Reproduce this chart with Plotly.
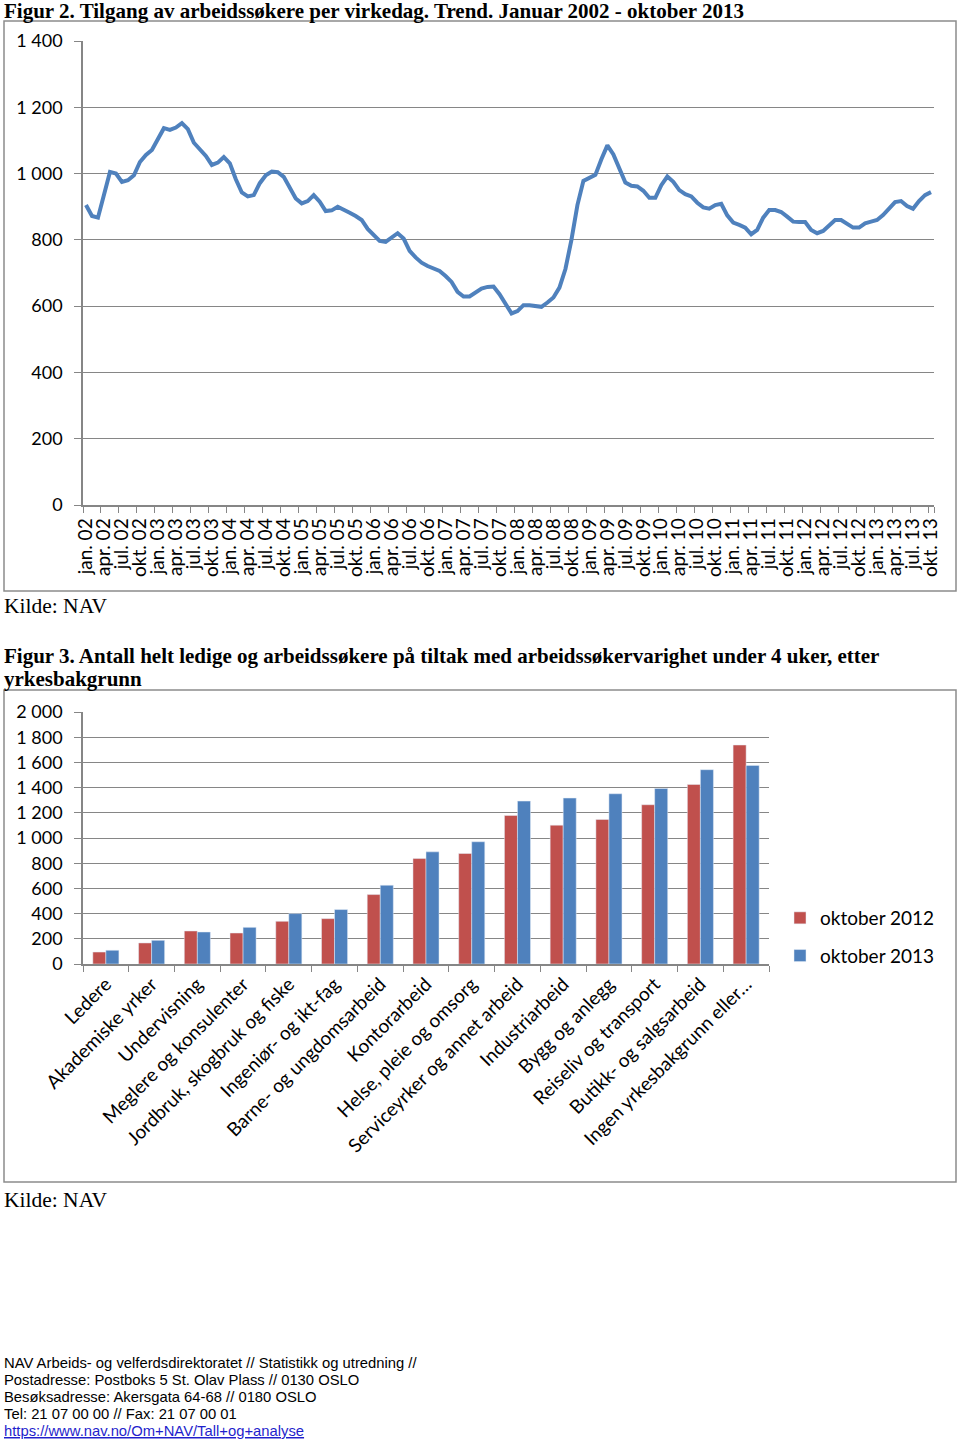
import plotly.graph_objects as go

# ---------------- Data: Figur 2 ----------------
month_abbr = ["jan.", "feb.", "mar.", "apr.", "mai", "jun.", "jul.", "aug.", "sep.", "okt.", "nov.", "des."]
years = ["02", "03", "04", "05", "06", "07", "08", "09", "10", "11", "12", "13"]
shown_months = ["jan.", "apr.", "jul.", "okt."]

tilgang = [
    905, 872, 867, 936, 1005, 1000, 975, 980, 995, 1035, 1056, 1071,
    1103, 1137, 1132, 1139, 1152, 1134, 1093, 1071, 1053, 1026, 1033, 1050,
    1031, 983, 943, 931, 935, 971, 995, 1006, 1004, 990, 956, 925,
    910, 917, 935, 915, 887, 889, 900, 892, 882, 872, 860, 833,
    817, 797, 794, 807, 820, 804, 767, 747, 731, 721, 713, 706,
    691, 673, 643, 629, 629, 641, 653, 658, 659, 636, 606, 578,
    585, 603, 603, 599, 598, 611, 626, 656, 712, 800, 905, 978,
    988, 996, 1043, 1085, 1058, 1013, 973, 963, 961, 948, 927, 927,
    965, 991, 975, 950, 938, 931, 912, 898, 894, 905, 909, 874,
    852, 845, 837, 817, 830, 867, 890, 890, 884, 870, 855, 854,
    854, 830, 820, 827, 845, 860, 860, 849, 837, 837, 850, 855,
    860, 875, 894, 914, 917, 902, 894, 917, 935, 944,
]

months = [f"{m} {y}" for y in years for m in month_abbr][:len(tilgang)]
month_ticks = [c for c in months if c.split(" ")[0] in shown_months]

# ---------------- Data: Figur 3 ----------------
yrker = [
    "Ledere", "Akademiske yrker", "Undervisning", "Meglere og konsulenter",
    "Jordbruk, skogbruk og fiske", "Ingeniør- og ikt-fag", "Barne- og ungdomsarbeid",
    "Kontorarbeid", "Helse, pleie og omsorg", "Serviceyrker og annet arbeid",
    "Industriarbeid", "Bygg og anlegg", "Reiseliv og transport",
    "Butikk- og salgsarbeid", "Ingen yrkesbakgrunn eller…",
]
okt_2012 = [95, 167, 262, 246, 339, 360, 551, 837, 877, 1179, 1102, 1147, 1264, 1425, 1738]
okt_2013 = [109, 188, 254, 291, 400, 432, 625, 890, 970, 1293, 1317, 1351, 1393, 1542, 1576]

W, H = 960, 1444
def px(x):
    return x / W
def py(y):
    return 1 - y / H

GRID = "#868686"
BLUE = "#4F81BD"
RED = "#C0504D"
SANS = "Lato"
SERIF = "Liberation Serif"
tickfont = dict(family=SANS, size=19, color="#000000")
ytickfont = dict(family=SANS, size=18, color="#000000")

fig = go.Figure()
fig.add_trace(go.Scatter(
    x=months, y=tilgang, mode="lines",
    line=dict(color=BLUE, width=4),
    xaxis="x", yaxis="y", showlegend=False, hoverinfo="x+y",
))
fig.add_trace(go.Bar(
    x=yrker, y=okt_2012, name="oktober 2012", marker_color=RED,
    xaxis="x2", yaxis="y2", legendgroup="a",
))
fig.add_trace(go.Bar(
    x=yrker, y=okt_2013, name="oktober 2013", marker_color=BLUE,
    xaxis="x2", yaxis="y2", legendgroup="b",
))

fig.update_layout(
    width=W, height=H,
    margin=dict(l=0, r=0, t=0, b=0, pad=0, autoexpand=False),
    paper_bgcolor="white", plot_bgcolor="white",
    separators=", ",
    barmode="group", bargap=0.43, bargroupgap=0,
    xaxis=dict(
        domain=[px(83), px(934)], anchor="y", type="category",
        categoryorder="array", categoryarray=months,
        range=[-0.5, len(months) - 0.5],
        tickmode="array", tickvals=month_ticks, ticktext=month_ticks,
        tickangle=-90, tickson="boundaries",
        ticks="outside", ticklen=6, tickcolor=GRID, tickwidth=1,
        showline=True, linecolor=GRID, linewidth=1.5,
        showgrid=False, tickfont=tickfont, ticklabelstandoff=4,
        automargin=False,
    ),
    yaxis=dict(
        domain=[py(505), py(41)], anchor="x",
        range=[0, 1400], dtick=200, tick0=0, tickformat=",d",
        ticks="outside", ticklen=7, tickcolor=GRID,
        showline=True, linecolor=GRID, linewidth=1.5,
        showgrid=True, gridcolor=GRID, gridwidth=1.2, zeroline=False,
        tickfont=ytickfont, ticklabelstandoff=8, automargin=False,
    ),
    xaxis2=dict(
        domain=[px(83), px(769)], anchor="y2", type="category",
        categoryorder="array", categoryarray=yrker,
        tickangle=-45, tickson="boundaries",
        ticks="outside", ticklen=6, tickcolor=GRID,
        showline=True, linecolor=GRID, linewidth=1.5,
        showgrid=False, tickfont=tickfont, automargin=False,
    ),
    yaxis2=dict(
        domain=[py(964), py(712)], anchor="x2",
        range=[0, 2000], dtick=200, tick0=0, tickformat=",d",
        ticks="outside", ticklen=7, tickcolor=GRID,
        showline=True, linecolor=GRID, linewidth=1.5,
        showgrid=True, gridcolor=GRID, gridwidth=1.2, zeroline=False,
        tickfont=ytickfont, ticklabelstandoff=8, automargin=False,
    ),
    legend=dict(
        x=px(780), y=py(899), xanchor="left", yanchor="top",
        font=dict(family=SANS, size=19, color="#000000"),
        bgcolor="rgba(0,0,0,0)", tracegroupgap=10,
        itemwidth=30,
    ),
    shapes=[
        dict(type="rect", xref="paper", yref="paper",
             x0=px(4), x1=px(956), y0=py(591), y1=py(21),
             line=dict(color="#8c8c8c", width=1.5)),
        dict(type="rect", xref="paper", yref="paper",
             x0=px(4), x1=px(956), y0=py(1182), y1=py(690),
             line=dict(color="#8c8c8c", width=1.5)),
    ],
)

annotations = []
def add_text(text, x, y, family, size, color="#000000"):
    annotations.append(dict(
        text=text, xref="paper", yref="paper", x=px(x), y=py(y),
        xanchor="left", yanchor="middle", showarrow=False,
        font=dict(family=family, size=size, color=color), align="left",
    ))

add_text("<b>Figur 2. Tilgang av arbeidssøkere per virkedag. Trend. Januar 2002 - oktober 2013</b>", 2, 11, SERIF, 21)
add_text("Kilde: NAV", 2, 606, SERIF, 21.5)
add_text("<b>Figur 3. Antall helt ledige og arbeidssøkere på tiltak med arbeidssøkervarighet under 4 uker, etter</b>", 2, 656, SERIF, 21)
add_text("<b>yrkesbakgrunn</b>", 2, 679, SERIF, 21)
add_text("Kilde: NAV", 2, 1200, SERIF, 21.5)

footer = [
    "NAV Arbeids- og velferdsdirektoratet // Statistikk og utredning //",
    "Postadresse: Postboks 5 St. Olav Plass // 0130 OSLO",
    "Besøksadresse: Akersgata 64-68 // 0180 OSLO",
    "Tel: 21 07 00 00 // Fax: 21 07 00 01",
]
for k, line in enumerate(footer):
    add_text(line, 2, 1363 + 17 * k, "Liberation Sans", 14.8)
add_text("<u>https://www.nav.no/Om+NAV/Tall+og+analyse</u>", 2, 1363 + 17 * 4, "Liberation Sans", 14.8, color="#1F1FCC")

fig.update_layout(annotations=annotations)

fig.write_html("out.html")
